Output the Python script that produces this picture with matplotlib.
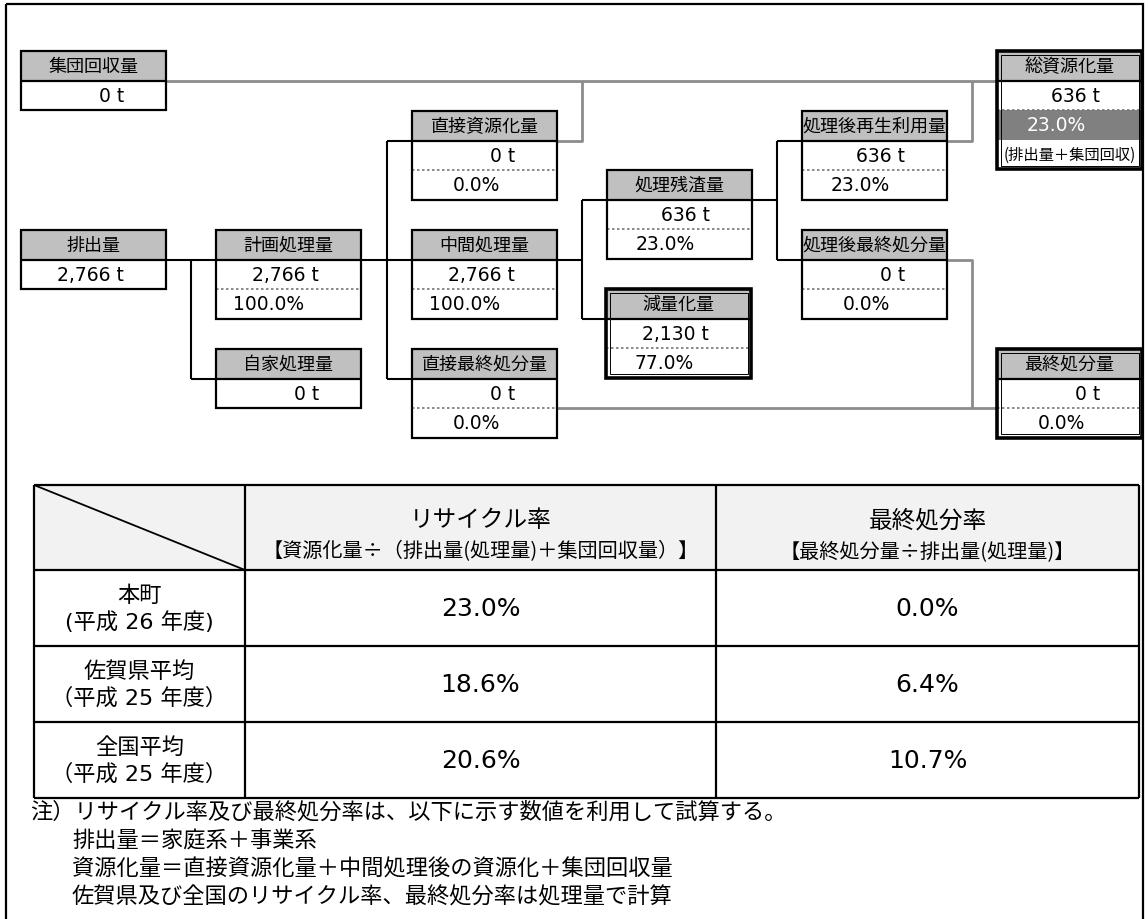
import matplotlib.pyplot as plt
from matplotlib.patches import Rectangle

plt.rcParams['font.family'] = ['Noto Sans CJK JP', 'DejaVu Sans']
NUM = ['DejaVu Sans', 'Noto Sans CJK JP']   # 数字は幅の広い書体で

# フロー図のデータ
box_names = ['集団回収量', '排出量', '計画処理量', '自家処理量', '直接資源化量', '中間処理量',
             '直接最終処分量', '処理残渣量', '減量化量', '処理後再生利用量', '処理後最終処分量',
             '総資源化量', '最終処分量']
box_tons = [0, 2766, 2766, 0, 0, 2766, 0, 636, 2130, 636, 0, 636, 0]
box_rates = [None, None, 100.0, None, 0.0, 100.0, 0.0, 23.0, 77.0, 23.0, 0.0, 23.0, 0.0]
total_note = '(排出量＋集団回収)'

# 表のデータ
col_titles = ['リサイクル率', '最終処分率']
col_formulas = ['【資源化量÷（排出量(処理量)＋集団回収量）】', '【最終処分量÷排出量(処理量)】']
row_labels = ['本町\n(平成 26 年度)', '佐賀県平均\n（平成 25 年度）', '全国平均\n（平成 25 年度）']
recycle_rates = [23.0, 18.6, 20.6]
final_rates = [0.0, 6.4, 10.7]
notes = ['注）リサイクル率及び最終処分率は、以下に示す数値を利用して試算する。',
         '排出量＝家庭系＋事業系',
         '資源化量＝直接資源化量＋中間処理後の資源化＋集団回収量',
         '佐賀県及び全国のリサイクル率、最終処分率は処理量で計算']

# 配置 (ピクセル座標, 左上)
pos = {'集団回収量': (21, 52), '排出量': (21, 231), '計画処理量': (216, 231),
       '自家処理量': (216, 350), '直接資源化量': (412, 112), '中間処理量': (412, 231),
       '直接最終処分量': (412, 350), '処理残渣量': (607, 171), '減量化量': (606, 290),
       '処理後再生利用量': (802, 112), '処理後最終処分量': (802, 231),
       '総資源化量': (997, 52), '最終処分量': (997, 350)}
double_boxes = ['減量化量', '総資源化量', '最終処分量']
BW, RH = 145, 29.5
HEAD = '#c0c0c0'
LINK = '#8c8c8c'

fig = plt.figure(figsize=(11.48, 9.2), dpi=100)
ax = fig.add_axes([0, 0, 1, 1])
ax.set_xlim(0, 1148)
ax.set_ylim(920, 0)
ax.axis('off')

# 外枠
ax.add_patch(Rectangle((6, 5), 1137, 940, fill=False, ec='black', lw=1.6, zorder=1))


def line(xs, ys, color='black', lw=1.5, z=2):
    ax.plot(xs, ys, color=color, lw=lw, solid_capstyle='butt', zorder=z)


def draw_box(name, tons, rate):
    x, y = pos[name]
    nrow = 2 if rate is None else 3
    if name == '総資源化量':
        nrow = 4
    ax.add_patch(Rectangle((x, y), BW, RH, fc=HEAD, ec='none', zorder=3))
    ax.add_patch(Rectangle((x, y + RH), BW, RH * (nrow - 1), fc='white', ec='none', zorder=3))
    ax.text(x + BW / 2, y + RH / 2, name, ha='center', va='center', fontsize=13, zorder=5)
    ax.text(x + 103, y + RH * 1.5, f'{tons:,} t', ha='right', va='center', fontsize=13.5,
            family=NUM, zorder=5)
    line([x, x + BW], [y + RH, y + RH], lw=1.6, z=4)
    if rate is not None:
        if name == '総資源化量':
            ax.add_patch(Rectangle((x, y + RH * 2), BW, RH, fc='#808080', ec='none', zorder=3))
            ax.text(x + 89, y + RH * 2.5, f'{rate:.1f}%', ha='right', va='center',
                    fontsize=13.5, family=NUM, color='white', zorder=5)
            ax.text(x + BW / 2, y + RH * 3.5, total_note, ha='center', va='center',
                    fontsize=11, zorder=5)
        else:
            ax.text(x + 88, y + RH * 2.5, f'{rate:.1f}%', ha='right', va='center',
                    fontsize=13.5, family=NUM, zorder=5)
        ax.plot([x, x + BW], [y + RH * 2, y + RH * 2], color='#777777', lw=1.2,
                ls=(0, (1.5, 1.5)), zorder=4)
    h = RH * nrow
    if name in double_boxes:
        ax.add_patch(Rectangle((x, y), BW, h, fill=False, ec='black', lw=2.6, zorder=6))
        ax.add_patch(Rectangle((x + 3.5, y + 3.5), BW - 7, h - 7, fill=False, ec='black',
                               lw=0.7, zorder=6))
    else:
        ax.add_patch(Rectangle((x, y), BW, h, fill=False, ec='black', lw=1.6, zorder=6))


for n, t, r in zip(box_names, box_tons, box_rates):
    draw_box(n, t, r)


def px(name, side):
    x, y = pos[name]
    return x if side == 'l' else x + BW


def py(name, k):
    return pos[name][1] + RH * k


# 接続線 (黒)
line([px('排出量', 'r'), px('計画処理量', 'l')], [py('排出量', 1)] * 2)
line([191, 191], [py('排出量', 1), py('自家処理量', 1)])
line([191, px('自家処理量', 'l')], [py('自家処理量', 1)] * 2)
line([px('計画処理量', 'r'), px('中間処理量', 'l')], [py('計画処理量', 1)] * 2)
line([387, 387], [py('直接資源化量', 1), py('直接最終処分量', 1)])
line([387, px('直接資源化量', 'l')], [py('直接資源化量', 1)] * 2)
line([387, px('直接最終処分量', 'l')], [py('直接最終処分量', 1)] * 2)
line([px('中間処理量', 'r'), 582], [py('中間処理量', 1)] * 2)
line([582, 582], [py('処理残渣量', 1), py('減量化量', 1)])
line([582, px('処理残渣量', 'l')], [py('処理残渣量', 1)] * 2)
line([582, px('減量化量', 'l')], [py('減量化量', 1)] * 2)
line([px('処理残渣量', 'r'), 777], [py('処理残渣量', 1)] * 2)
line([777, 777], [py('処理後再生利用量', 1), py('処理後最終処分量', 1)])
line([777, px('処理後再生利用量', 'l')], [py('処理後再生利用量', 1)] * 2)
line([777, px('処理後最終処分量', 'l')], [py('処理後最終処分量', 1)] * 2)

# 接続線 (灰)
ytop = py('集団回収量', 1)
line([px('集団回収量', 'r'), px('総資源化量', 'l')], [ytop] * 2, LINK, 2)
line([px('直接資源化量', 'r'), 582, 582], [py('直接資源化量', 1)] * 2 + [ytop], LINK, 2)
line([px('処理後再生利用量', 'r'), 972, 972], [py('処理後再生利用量', 1)] * 2 + [ytop], LINK, 2)
ybot = py('最終処分量', 2)
line([px('直接最終処分量', 'r'), px('最終処分量', 'l')], [ybot] * 2, LINK, 2)
line([px('処理後最終処分量', 'r'), 972, 972], [py('処理後最終処分量', 1)] * 2 + [ybot], LINK, 2)

# 表
cx = [34, 245, 716, 1139]
ry = [486, 571, 647, 723, 799]
ax.add_patch(Rectangle((cx[0], ry[0]), cx[-1] - cx[0], ry[1] - ry[0], fc='#f2f2f2', ec='none', zorder=1))
for yy in ry:
    line([cx[0], cx[-1]], [yy, yy], lw=1.6)
for xx in cx:
    line([xx, xx], [ry[0], ry[-1]], lw=1.6)
line([cx[0], cx[1]], [ry[0], ry[1]], lw=1.3)

for j in range(2):
    mx = (cx[j + 1] + cx[j + 2]) / 2
    ax.text(mx, 521, col_titles[j], ha='center', va='center', fontsize=17)
    ax.text(mx, 552, col_formulas[j], ha='center', va='center', fontsize=14.5)

for i in range(3):
    my = (ry[i + 1] + ry[i + 2]) / 2
    ax.text((cx[0] + cx[1]) / 2, my, row_labels[i], ha='center', va='center',
            fontsize=16, linespacing=1.3, family=NUM)
    ax.text((cx[1] + cx[2]) / 2, my, f'{recycle_rates[i]:.1f}%', ha='center', va='center',
            fontsize=18, family=NUM)
    ax.text((cx[2] + cx[3]) / 2, my, f'{final_rates[i]:.1f}%', ha='center', va='center',
            fontsize=18, family=NUM)

# 注記
note_y = [812, 841, 869, 897]
note_x = [30, 72, 72, 72]
for t, xx, yy in zip(notes, note_x, note_y):
    ax.text(xx, yy, t, ha='left', va='center', fontsize=16)

fig.savefig('out.png', dpi=100)
